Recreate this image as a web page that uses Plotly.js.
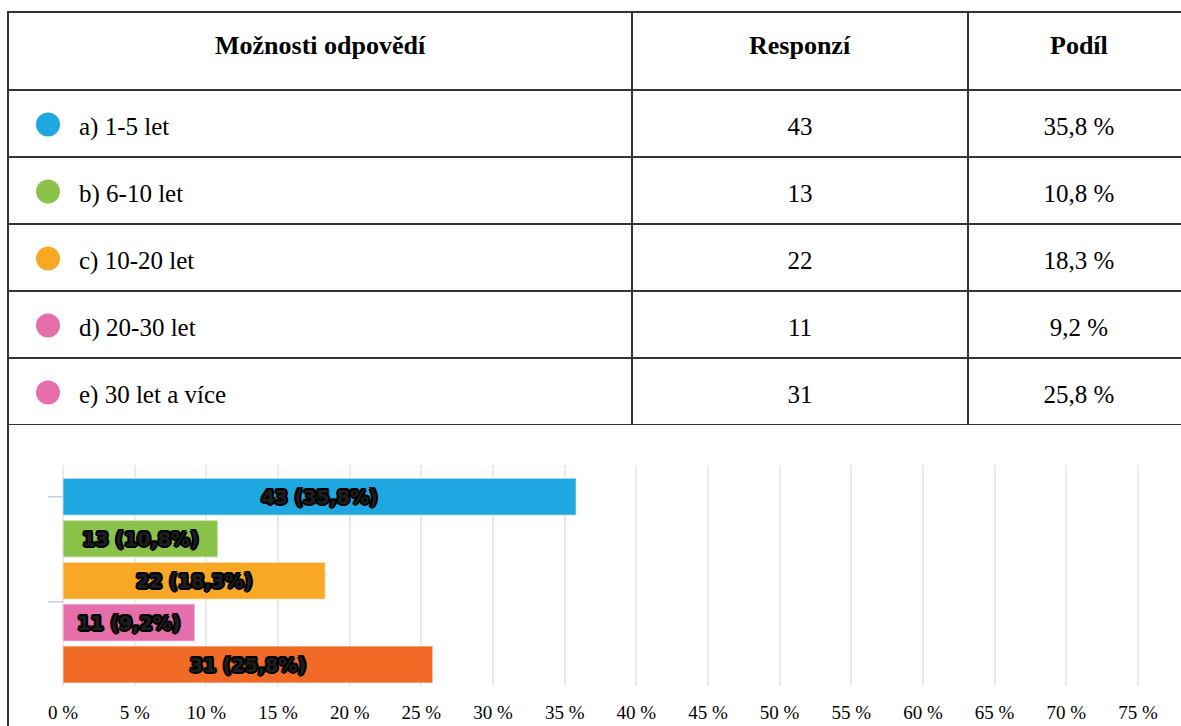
<!DOCTYPE html>
<html>
<head>
<meta charset="utf-8">
<script src="https://cdn.plot.ly/plotly-3.0.1.min.js"></script>
<style>
  html, body { margin: 0; padding: 0; overflow: hidden; background: #fff; }
  #chart { width: 1200px; height: 726px; }
</style>
</head>
<body>
<div id="chart"></div>
<script>
// ---- data ----
const headers = ['Možnosti odpovědí', 'Responzí', 'Podíl'];
const options = ['a) 1-5 let', 'b) 6-10 let', 'c) 10-20 let', 'd) 20-30 let', 'e) 30 let a více'];
const responses = [43, 13, 22, 11, 31];
const shares = [35.8, 10.8, 18.3, 9.2, 25.8];
const dotColors = ['#1ea7e1', '#8bc34a', '#f9a825', '#e56fab', '#e56fab'];
const barColors = ['#1ea7e1', '#8bc34a', '#f9a825', '#e56fab', '#f26b26'];
const tickValues = [0, 5, 10, 15, 20, 25, 30, 35, 40, 45, 50, 55, 60, 65, 70, 75];
const tickLabels = tickValues.map(v => v + ' %');

// ---- helpers ----
const W = 1200, H = 726;
const px = v => v / W;          // horizontal pixel -> paper
const py = v => 1 - v / H;      // vertical pixel (from top) -> paper
const comma = v => v.toFixed(1).replace('.', ',');

const serif = "'Liberation Serif', 'Times New Roman', serif";
const lineCol = '#353535';

const blank = options.map(() => '');
const o = '#000';
const outline = [
  '2px 0 0 ' + o, '-2px 0 0 ' + o, '0 2px 0 ' + o, '0 -2px 0 ' + o,
  '1.5px 1.5px 0 ' + o, '-1.5px -1.5px 0 ' + o, '1.5px -1.5px 0 ' + o, '-1.5px 1.5px 0 ' + o
].join(', ');

const traces = [
  // table grid
  {
    type: 'table',
    domain: { x: [px(8), px(1190)], y: [py(425), py(12)] },
    columnwidth: [624, 336, 222],
    header: {
      values: ['', '', ''],
      height: 78,
      line: { color: lineCol, width: 2 },
      fill: { color: 'rgba(0,0,0,0)' }
    },
    cells: {
      values: [blank, blank, blank],
      height: 67,
      line: { color: lineCol, width: 2 },
      fill: { color: 'rgba(0,0,0,0)' }
    },
    hoverinfo: 'skip'
  },
  // coloured dots
  {
    type: 'scatter', mode: 'markers',
    x: options.map(() => 48), y: options,
    xaxis: 'x2', yaxis: 'y2',
    marker: { size: 24, color: dotColors, line: { width: 0 } },
    hoverinfo: 'skip', showlegend: false
  },
  // option labels
  {
    type: 'scatter', mode: 'text',
    x: options.map(() => 79), y: options, text: options,
    textposition: 'middle right',
    textfont: { family: serif, size: 25, color: '#000' },
    xaxis: 'x2', yaxis: 'y3', hoverinfo: 'skip', showlegend: false
  },
  // responses
  {
    type: 'scatter', mode: 'text',
    x: options.map(() => 800), y: options, text: responses.map(String),
    textposition: 'middle center',
    textfont: { family: serif, size: 25, color: '#000' },
    xaxis: 'x2', yaxis: 'y3', hoverinfo: 'skip', showlegend: false
  },
  // shares
  {
    type: 'scatter', mode: 'text',
    x: options.map(() => 1079), y: options, text: shares.map(v => comma(v) + ' %'),
    textposition: 'middle center',
    textfont: { family: serif, size: 25, color: '#000' },
    xaxis: 'x2', yaxis: 'y3', hoverinfo: 'skip', showlegend: false
  },
  // bar chart
  {
    type: 'bar', orientation: 'h',
    x: shares, y: options,
    text: responses.map((r, i) => r + ' (' + comma(shares[i]) + '%)'),
    textposition: 'inside', insidetextanchor: 'middle',
    constraintext: 'none', textangle: 0,
    textfont: {
      family: "'DejaVu Sans'", size: 19, weight: 'bold', color: '#1e1e1e',
      shadow: outline
    },
    marker: { color: barColors, line: { color: 'rgba(255,255,255,0.45)', width: 1.5 } },
    hoverinfo: 'skip', showlegend: false
  }
];

const rowTop = 90, rowBottom = 425;
const headerY = 45;

const layout = {
  width: W, height: H,
  margin: { l: 0, r: 0, t: 0, b: 0, pad: 0 },
  paper_bgcolor: '#fff', plot_bgcolor: 'rgba(0,0,0,0)',
  showlegend: false,
  bargap: 0.117,
  xaxis: {
    domain: [px(63), px(63 + 75.5 * 14.333)],
    range: [0, 75.5],
    tickmode: 'array', tickvals: tickValues, ticktext: tickLabels,
    tickfont: { family: serif, size: 19, color: '#000' },
    ticklabelstandoff: 13,
    showgrid: true, gridcolor: '#eaeaea', gridwidth: 2,
    zeroline: true, zerolinecolor: '#eaeaea', zerolinewidth: 2,
    showline: false, ticks: '', fixedrange: true
  },
  yaxis: {
    domain: [py(685.5), py(465)],
    type: 'category',
    categoryorder: 'array', categoryarray: options,
    range: [4.5, -0.76],
    showticklabels: false, showgrid: false, zeroline: false, showline: false,
    ticks: '', fixedrange: true
  },
  xaxis2: {
    domain: [0, 1], range: [0, W], anchor: 'y2',
    visible: false, fixedrange: true
  },
  yaxis2: {
    domain: [py(rowBottom + 1), py(rowTop + 1)], anchor: 'x2',
    type: 'category', categoryorder: 'array', categoryarray: options,
    range: [4.5, -0.5], visible: false, fixedrange: true
  },
  yaxis3: {
    domain: [py(rowBottom + 5), py(rowTop + 5)], anchor: 'x2',
    type: 'category', categoryorder: 'array', categoryarray: options,
    range: [4.5, -0.5], visible: false, fixedrange: true
  },
  annotations: headers.map((h, i) => ({
    text: '<b>' + h + '</b>', x: px([320, 800, 1079][i]), y: py(headerY),
    xref: 'paper', yref: 'paper', xanchor: 'center', yanchor: 'middle', showarrow: false,
    font: { family: serif, size: 26, color: '#000' }
  })),
  shapes: [
    // left border of the chart cell below the table
    { type: 'line', xref: 'paper', yref: 'paper', x0: px(8), x1: px(8), y0: py(424), y1: 0,
      line: { color: lineCol, width: 2 } },
    // small y-axis ticks
    { type: 'line', xref: 'paper', yref: 'y', x0: px(48), x1: px(63), y0: 0, y1: 0,
      line: { color: '#c6cde6', width: 1.5 } },
    { type: 'line', xref: 'paper', yref: 'y', x0: px(48), x1: px(63), y0: 2.5, y1: 2.5,
      line: { color: '#c6cde6', width: 1.5 } }
  ]
};

Plotly.newPlot('chart', traces, layout, { displayModeBar: false, staticPlot: true });
</script>
</body>
</html>
